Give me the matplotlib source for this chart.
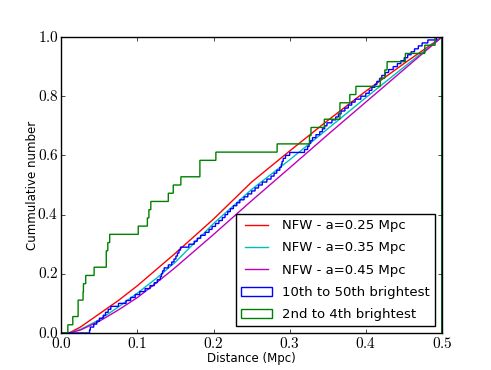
import numpy as np
import matplotlib
matplotlib.use("Agg")
import matplotlib.pyplot as plt
from matplotlib.ticker import FuncFormatter

# NFW model curves
nfw_d = [0.01, 0.025, 0.05, 0.075, 0.1, 0.125, 0.15, 0.2, 0.25, 0.3, 0.35, 0.4, 0.45, 0.5]
nfw_025 = [0.0, 0.02, 0.065, 0.11, 0.16, 0.215, 0.27, 0.385, 0.51, 0.615, 0.718, 0.817, 0.91, 1.0]
nfw_035 = [0.0, 0.012, 0.045, 0.088, 0.135, 0.185, 0.24, 0.37, 0.485, 0.585, 0.69, 0.795, 0.898, 1.0]
nfw_045 = [0.0, 0.01, 0.04, 0.078, 0.12, 0.17, 0.222, 0.333, 0.447, 0.558, 0.67, 0.78, 0.89, 1.0]

# galaxy distances (Mpc)
faint_d = [0.037, 0.038, 0.0427, 0.0467, 0.050, 0.055, 0.0583, 0.0617, 0.065, 0.075,
           0.085, 0.091, 0.097, 0.1033, 0.110, 0.1167, 0.122, 0.126, 0.130, 0.1317,
           0.1332, 0.1353, 0.1407, 0.1451, 0.1484, 0.1509, 0.1528, 0.1547, 0.1566, 0.1675,
           0.1748, 0.1789, 0.183, 0.189, 0.194, 0.198, 0.2025, 0.2075, 0.2117, 0.2151,
           0.2186, 0.222, 0.2263, 0.2307, 0.235, 0.2401, 0.2452, 0.250, 0.2545, 0.2593,
           0.2644, 0.2703, 0.2758, 0.2796, 0.2834, 0.2872, 0.289, 0.2904, 0.2917, 0.2946,
           0.300, 0.3196, 0.3238, 0.3259, 0.3279, 0.330, 0.3348, 0.3396, 0.3432, 0.3463,
           0.3494, 0.3558, 0.3605, 0.3641, 0.3679, 0.3726, 0.3772, 0.3818, 0.3862, 0.3935,
           0.4002, 0.4045, 0.4084, 0.4121, 0.415, 0.4181, 0.4214, 0.4256, 0.4303, 0.436,
           0.4415, 0.4462, 0.4508, 0.4553, 0.4598, 0.4643, 0.4691, 0.4744, 0.4818, 0.493]
bright_d = [0.0088, 0.0154, 0.022, 0.022, 0.0286, 0.0295, 0.032, 0.0435, 0.0594, 0.0594,
            0.061, 0.0637, 0.101, 0.113, 0.115, 0.118, 0.1407, 0.147, 0.157, 0.182,
            0.182, 0.203, 0.284, 0.326, 0.328, 0.346, 0.366, 0.366, 0.379, 0.387,
            0.419, 0.425, 0.428, 0.452, 0.478, 0.491]

plt.style.use('classic')
plt.rcParams['font.size'] = 9
plt.rcParams['mathtext.fontset'] = 'cm'

fig = plt.figure(figsize=(4.91, 3.70), dpi=100)
ax = fig.add_subplot(111)
fig.subplots_adjust(left=0.125, right=0.9, bottom=0.1, top=0.9)

ax.plot(nfw_d, nfw_025, 'r-', lw=1.0, label='NFW - a=0.25 Mpc')
ax.plot(nfw_d, nfw_035, 'c-', lw=1.0, label='NFW - a=0.35 Mpc')
ax.plot(nfw_d, nfw_045, 'm-', lw=1.0, label='NFW - a=0.45 Mpc')

bins = np.linspace(0, 0.5, 1001)
ax.hist(faint_d, bins=bins, cumulative=True, density=True, histtype='step',
        color='b', lw=1.0, label='10th to 50th brightest')
ax.hist(bright_d, bins=bins, cumulative=True, density=True, histtype='step',
        color='g', lw=1.0, label='2nd to 4th brightest')

ax.set_xlim(0, 0.5)
ax.set_ylim(0, 1.0)
ax.set_xticks([0.0, 0.1, 0.2, 0.3, 0.4, 0.5])
ax.set_yticks([0.0, 0.2, 0.4, 0.6, 0.8, 1.0])
fmt = FuncFormatter(lambda v, p: r'$%.1f$' % v)
ax.xaxis.set_major_formatter(fmt)
ax.yaxis.set_major_formatter(fmt)
ax.tick_params(labelsize=11, length=3, pad=2)
ax.set_xlabel('Distance (Mpc)', fontsize=8.5, labelpad=1)
ax.set_ylabel('Cummulative number', fontsize=8.5, labelpad=-1)

ax.legend(loc='lower right', fontsize=9.5, handlelength=2.3, fancybox=False,
          framealpha=1, edgecolor='black', labelspacing=0.7, borderaxespad=0.5)

fig.savefig('out.png', dpi=100)
